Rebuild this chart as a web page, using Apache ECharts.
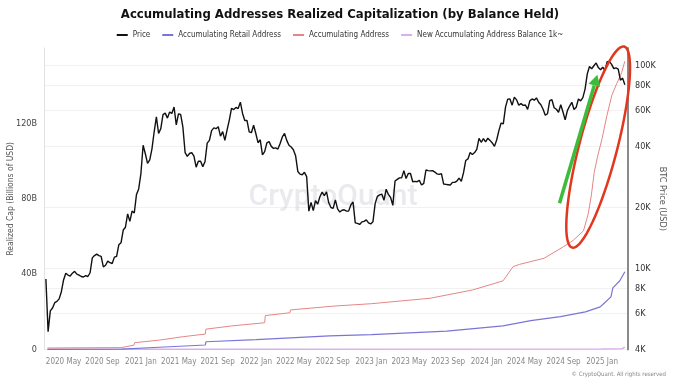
<!DOCTYPE html>
<html><head><meta charset="utf-8">
<script src="https://cdn.jsdelivr.net/npm/echarts@6/dist/echarts.min.js"></script>
<style>html,body{margin:0;padding:0;background:#fff}#c{width:680px;height:382px}</style>
</head><body><div id="c"></div>
<script>
const chartTitle = 'Accumulating Addresses Realized Capitalization (by Balance Held)';
const seriesNames = ['Price', 'Accumulating Retail Address', 'Accumulating Address', 'New Accumulating Address Balance 1k~'];
const seriesColors = ['#111111', '#7b74d8', '#e58585', '#d9b0ea'];

// BTC price, one reading per week starting 2020-03-06
const priceStart = [2020, 2, 6];
const priceValues = [
  // 2020
  8900, 4900, 6200, 6400, 6800, 6900, 7100, 7700, 8800, 9500, 9300, 9200, 9500,
  9700, 9400, 9300, 9150, 9100, 9250, 9150, 9550, 11300, 11600, 11800, 11600, 11500,
  10200, 10400, 10900, 10700, 10600, 11400, 11500, 13100, 13400, 15500, 16000, 18600, 17100,
  19200, 18800, 23200, 24700,
  // 2021
  29400, 40500, 36800, 33000, 34300, 38900, 47200, 55900, 46300, 48900, 57300, 58300, 55100,
  59000, 58100, 62500, 51000, 57800, 57400, 49700, 37300, 35700, 36900, 37300, 35800, 31600,
  33800, 33800, 31800, 33600, 41500, 42800, 47800, 49300, 48900, 50000, 44900, 47300, 42800,
  48200, 53900, 61500, 60700, 62200, 61400, 66000, 58100, 53600, 53700, 47200, 46700, 50800, 46300,
  // 2022
  41700, 43100, 36300, 37700, 41600, 42200, 40000, 39100, 39300, 38800, 41300, 44500,
  46300, 42800, 40500, 39700, 38500, 36000, 30100, 29200, 29000, 29800, 28400, 19200, 21200,
  19300, 21600, 20800, 22600, 23800, 22900, 23900, 21100, 20000, 19800, 21800, 19700, 19000, 19400,
  19500, 19200, 19200, 20600, 21300, 16800, 16700, 16500, 17000, 17100, 17400, 16800, 16600,
  // 2023
  17000, 20900, 22700, 23100, 23300, 21700, 24600, 23200, 22400, 20500, 27000, 27500, 28000,
  28000, 30400, 27800, 29400, 29400, 26800, 26900, 26800, 27200, 25800, 26300, 30600, 30400,
  30300, 30400, 29900, 29300, 29100, 29400, 26100, 26000, 25900, 25800, 26600, 26600, 27000,
  27900, 26900, 29700, 34100, 34700, 37300, 36500, 37300, 38700, 43800, 41900, 43700, 42100,
  // 2024
  43900, 42800, 41600, 40000, 43000, 47800, 52100, 51600, 62400, 68300, 68400, 63800, 69900,
  67800, 63800, 64900, 63700, 63900, 60800, 67000, 68500, 67500, 69300, 66000, 64100, 60900,
  57000, 57900, 67200, 67900, 62000, 60900, 58900, 64100, 59100, 54000, 60000, 63200, 65900,
  60800, 62400, 68400, 67000, 69500, 76600, 91000, 98900, 96400, 99800, 103000, 97700, 95300,
  // 2025
  98100, 94700, 104500, 104800, 101400, 96500, 97500, 96100, 84700, 86700, 80500
];

const retailDates = ['2020-03-11', '2020-11-01', '2021-03-01', '2021-07-24', '2021-07-26', '2022-01-01', '2022-08-21',
  '2023-01-01', '2023-08-28', '2024-02-22', '2024-05-20', '2024-08-22', '2024-11-09', '2024-12-26', '2025-01-04',
  '2025-01-29', '2025-02-04', '2025-02-26', '2025-03-14'];
const retailValues = [0.1, 0.2, 1.2, 2.4, 4.1, 5.2, 7.2, 7.9, 9.8, 12.5, 15.3, 17.4, 20.0, 22.6, 24.0, 27.9, 32.7, 36.5, 41.3];

const accumDates = ['2020-03-11', '2020-10-31', '2020-11-02', '2020-12-10', '2020-12-12', '2021-03-01', '2021-05-15',
  '2021-07-24', '2021-07-26', '2021-10-15', '2022-01-28', '2022-01-30', '2022-04-18', '2022-04-20', '2022-09-01',
  '2023-01-01', '2023-07-06', '2023-11-18', '2024-02-22', '2024-03-25', '2024-04-15', '2024-07-01', '2024-09-01',
  '2024-10-02', '2024-11-03', '2024-11-18', '2024-11-28', '2024-12-07', '2024-12-17', '2025-01-01', '2025-01-16',
  '2025-02-01', '2025-02-16', '2025-03-04', '2025-03-14'];
const accumValues = [0.8, 1.0, 2.0, 2.3, 3.6, 5.0, 6.8, 8.2, 10.8, 12.5, 14.2, 18.0, 19.5, 21.0, 23.0,
  24.3, 27.2, 31.6, 36.4, 44.0, 45.2, 48.4, 54.6, 58, 63, 72, 82, 94, 102, 112, 124, 135, 141, 147, 153];

const newDates = ['2020-03-11', '2022-01-01', '2024-12-31', '2025-03-05', '2025-03-14'];
const newValues = [0.1, 0.15, 0.2, 0.4, 1.3];

const leftTicks = [0, 40, 80, 120, 160];
const rightTicks = [4000, 6000, 8000, 10000, 20000, 40000, 60000, 80000, 100000];
const xTicks = ['2020-05-01', '2020-09-01', '2021-01-01', '2021-05-01', '2021-09-01', '2022-01-01', '2022-05-01',
  '2022-09-01', '2023-01-01', '2023-05-01', '2023-09-01', '2024-01-01', '2024-05-01', '2024-09-01', '2025-01-01'];
const xRange = ['2020-02-29', '2025-03-24'];
const priceRange = [4000, 122000];

// annotations (hand-drawn marks) anchored in data space
const ellipseEnds = [['2024-09-28', 12700], ['2025-03-12', 124000]];
const arrowEnds = [['2024-08-19', 21000], ['2024-12-17', 90000]];

const MONTHS = ['Jan','Feb','Mar','Apr','May','Jun','Jul','Aug','Sep','Oct','Nov','Dec'];
const ts = s => { const p = s.split('-').map(Number); return +new Date(p[0], p[1] - 1, p[2]); };
const priceData = priceValues.map((v, i) => [+new Date(priceStart[0], priceStart[1], priceStart[2] + 7 * i), v]);
const zip = (d, v) => d.map((x, i) => [ts(x), v[i]]);

const chart = echarts.init(document.getElementById('c'), null, {renderer: 'canvas'});
const NARROW = "'Liberation Sans Narrow', 'DejaVu Sans Condensed', Roboto, sans-serif";
const lineSeries = (i, data, yIdx, width, z) => ({
  name: seriesNames[i], type: 'line', data, yAxisIndex: yIdx, showSymbol: false, symbol: 'none',
  lineStyle: {color: seriesColors[i], width}, itemStyle: {color: seriesColors[i]}, z, animation: false
});

chart.setOption({
  animation: false,
  title: {text: chartTitle, left: 'center', top: 3,
    textStyle: {fontSize: 13, fontWeight: 'bold', color: '#111', fontFamily: NARROW}},
  legend: {data: seriesNames, top: 26, icon: 'rect', itemWidth: 11, itemHeight: 2, itemGap: 12,
    textStyle: {fontSize: 8, color: '#333', fontFamily: NARROW}},
  grid: {left: 44, right: 52, top: 48, bottom: 32.5, containLabel: false, outerBoundsMode: 'none'},
  xAxis: {type: 'value', min: ts(xRange[0]), max: ts(xRange[1]),
    axisLine: {show: false}, axisTick: {show: false}, splitLine: {show: false},
    axisLabel: {customValues: xTicks.map(ts), color: '#888', fontSize: 8, margin: 8, fontFamily: NARROW,
      hideOverlap: false, showMinLabel: true, showMaxLabel: true,
      formatter: v => { const d = new Date(v); return d.getFullYear() + ' ' + MONTHS[d.getMonth()]; }}},
  yAxis: [
    {type: 'value', position: 'left', min: leftTicks[0], max: leftTicks[leftTicks.length - 1], interval: 40,
      name: 'Realized Cap (Billions of USD)', nameLocation: 'middle', nameGap: 29, nameRotate: 90,
      nameMoveOverlap: false,
      nameTextStyle: {color: '#555', fontSize: 8.5, fontFamily: NARROW},
      axisLine: {show: true, lineStyle: {color: '#e2e2e2'}}, axisTick: {show: false}, splitLine: {show: false},
      axisLabel: {showMaxLabel: false, color: '#444', fontSize: 9, margin: 7, fontFamily: NARROW,
        formatter: v => v === 0 ? '0' : v + 'B'}},
    {type: 'log', logBase: 10, position: 'right', min: priceRange[0], max: priceRange[1], show: false},
    {type: 'value', position: 'right', min: Math.log10(priceRange[0]), max: Math.log10(priceRange[1]),
      name: 'BTC Price (USD)', nameLocation: 'middle', nameGap: 30, nameRotate: -90,
      nameMoveOverlap: false,
      nameTextStyle: {color: '#555', fontSize: 9, fontFamily: NARROW},
      axisLine: {show: true, lineStyle: {color: '#8a8a8a', width: 2}},
      axisTick: {show: false, customValues: rightTicks.map(Math.log10)},
      splitLine: {show: true, lineStyle: {color: '#f1f1f1'}},
      axisLabel: {customValues: rightTicks.map(Math.log10), color: '#333', fontSize: 9, margin: 7, fontFamily: NARROW,
        formatter: v => Math.round(Math.pow(10, v) / 1000) + 'K'}}
  ],
  series: [
    lineSeries(0, priceData, 1, 1.4, 5),
    lineSeries(1, zip(retailDates, retailValues), 0, 1.2, 3),
    lineSeries(2, zip(accumDates, accumValues), 0, 1, 3),
    lineSeries(3, zip(newDates, newValues), 0, 1.5, 2)
  ]
});

// annotations
const px = p => chart.convertToPixel({xAxisIndex: 0, yAxisIndex: 1}, [ts(p[0]), p[1]]);
const e0 = px(ellipseEnds[0]), e1 = px(ellipseEnds[1]);
const cx = (e0[0] + e1[0]) / 2, cy = (e0[1] + e1[1]) / 2;
const L = Math.hypot(e1[0] - e0[0], e1[1] - e0[1]);
const vx = (e1[0] - e0[0]) / L, vy = (e1[1] - e0[1]) / L;
const ux = -vy, uy = vx;
const ry = L / 2, rx = 19;
const pts = [];
for (let k = 0; k < 96; k++) {
  const t = k / 96 * Math.PI * 2;
  pts.push([cx + Math.cos(t) * rx * ux + Math.sin(t) * ry * vx, cy + Math.cos(t) * rx * uy + Math.sin(t) * ry * vy]);
}
const a0 = px(arrowEnds[0]), a1 = px(arrowEnds[1]);
const AL = Math.hypot(a1[0] - a0[0], a1[1] - a0[1]);
const dx = (a1[0] - a0[0]) / AL, dy = (a1[1] - a0[1]) / AL;
const hl = 11, hw = 6;
const base = [a1[0] - dx * hl, a1[1] - dy * hl];
chart.setOption({
  graphic: [
    {type: 'text', x: 333, y: 197, z: 0, silent: true,
      style: {text: 'CryptoQuant', fontSize: 30, fontWeight: 500, fill: 'rgba(185,185,200,0.3)',
        fontFamily: 'Roboto, sans-serif', align: 'center', verticalAlign: 'middle'}},
    {type: 'text', right: 14, bottom: 5, silent: true,
      style: {text: '© CryptoQuant. All rights reserved', fontSize: 6, fill: '#888', fontFamily: NARROW}},
    {type: 'polygon', z: 100, silent: true, shape: {points: pts},
      style: {fill: 'none', stroke: '#e2371f', lineWidth: 2.5}},
    {type: 'polyline', z: 100, silent: true, shape: {points: [a0, base]},
      style: {stroke: '#3bbd3b', lineWidth: 3.5, fill: 'none'}},
    {type: 'polygon', z: 100, silent: true,
      shape: {points: [a1, [base[0] + (-dy) * hw, base[1] + dx * hw], [base[0] - (-dy) * hw, base[1] - dx * hw]]},
      style: {fill: '#3bbd3b'}}
  ]
});
</script></body></html>
